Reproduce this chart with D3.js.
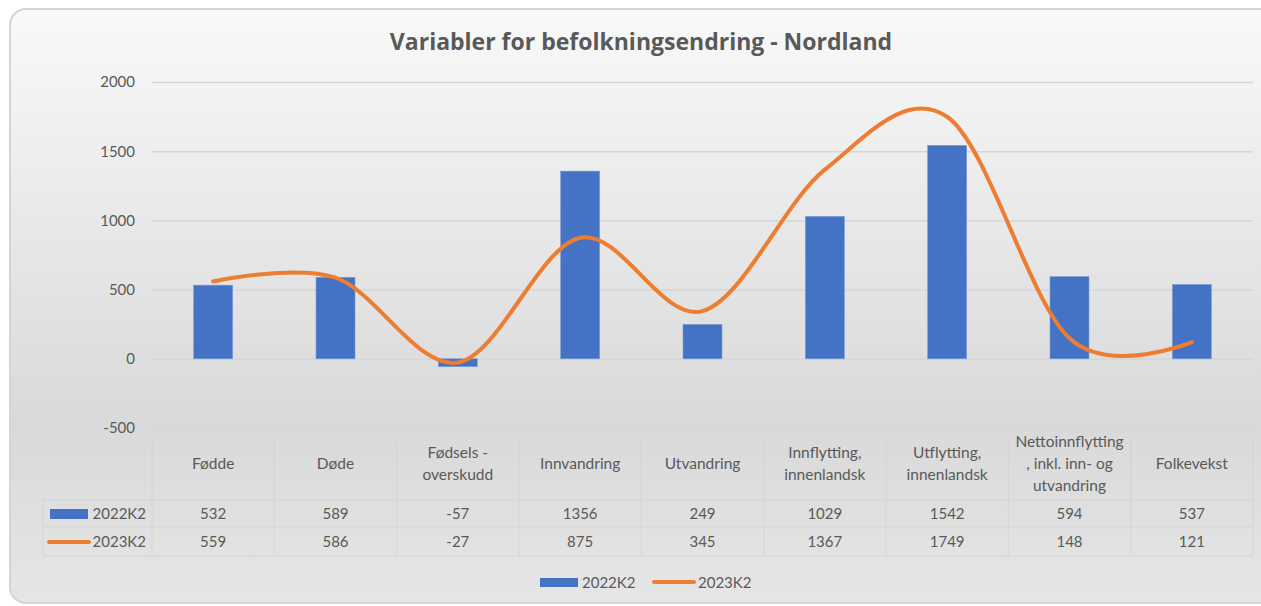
<!DOCTYPE html>
<html>
<head>
<meta charset="utf-8">
<script src="https://cdn.jsdelivr.net/npm/d3@7"></script>
<style>
  html, body { margin: 0; padding: 0; background: #fff; }
  svg { display: block; font-family: Lato, "Open Sans", sans-serif; }
</style>
</head>
<body>
<svg id="chart" width="1261" height="606"></svg>
<script>
// Chart data
var categories = ['Fødde', 'Døde', 'Fødsels -|overskudd', 'Innvandring', 'Utvandring',
  'Innflytting,|innenlandsk', 'Utflytting,|innenlandsk', 'Nettoinnflytting|, inkl. inn- og|utvandring', 'Folkevekst'];
var series2022 = [532, 589, -57, 1356, 249, 1029, 1542, 594, 537];
var series2023 = [559, 586, -27, 875, 345, 1367, 1749, 148, 121];
var seriesNames = ['2022K2', '2023K2'];
var yTicks = [-500, 0, 500, 1000, 1500, 2000];

var blue = '#4472C4', orange = '#ED7D31', textCol = '#595959';

var svg = d3.select('#chart');
var defs = svg.append('defs');
var grad = defs.append('linearGradient').attr('id', 'bg')
  .attr('x1', 0).attr('y1', 0).attr('x2', 0).attr('y2', 1);
grad.append('stop').attr('offset', '0%').attr('stop-color', '#f9f9f9');
grad.append('stop').attr('offset', '70%').attr('stop-color', '#d9d9d9');
grad.append('stop').attr('offset', '100%').attr('stop-color', '#e6e6e6');

// Chart frame
svg.append('rect')
  .attr('x', 10).attr('y', 9).attr('width', 1270).attr('height', 594)
  .attr('rx', 16).attr('ry', 16)
  .attr('fill', 'url(#bg)')
  .attr('stroke', '#d4d4d4').attr('stroke-width', 2);

// Title
svg.append('text')
  .attr('x', 641).attr('y', 50)
  .attr('text-anchor', 'middle')
  .style('font-family', '"Open Sans", sans-serif')
  .style('font-size', '23px').style('font-weight', 'bold')
  .attr('fill', textCol)
  .text('Variabler for befolkningsendring - Nordland');

var plotL = 152, plotR = 1253;
var x = d3.scaleBand().domain(d3.range(categories.length)).range([plotL, plotR]);
var y = d3.scaleLinear().domain([-500, 2000]).range([428, 82]);

// Gridlines + y axis labels
var yAxis = d3.axisLeft(y).tickValues(yTicks).tickSize(-(plotR - plotL)).tickPadding(17)
  .tickFormat(function(d) { return String(d); });
var gy = svg.append('g').attr('transform', 'translate(' + plotL + ',0)').call(yAxis);
gy.select('.domain').remove();
gy.selectAll('line').attr('stroke', '#d6d6d6').attr('stroke-width', 1.5);
gy.selectAll('text').attr('fill', textCol).style('font-size', '15px').style('font-family', 'Lato, sans-serif');

// Bars
var barW = 39;
svg.append('g').selectAll('rect')
  .data(series2022)
  .enter().append('rect')
  .attr('x', function(d, i) { return x(i) + x.bandwidth() / 2 - barW / 2; })
  .attr('y', function(d) { return y(Math.max(0, d)); })
  .attr('width', barW)
  .attr('height', function(d) { return Math.abs(y(d) - y(0)); })
  .attr('fill', blue)
  .attr('stroke', '#7d9bd4').attr('stroke-width', 0.6);

// Smoothed line
var line = d3.line()
  .x(function(d, i) { return x(i) + x.bandwidth() / 2; })
  .y(function(d) { return y(d); })
  .curve(d3.curveCardinal.tension(0));
svg.append('path')
  .datum(series2023)
  .attr('d', line)
  .attr('fill', 'none')
  .attr('stroke', orange)
  .attr('stroke-width', 4)
  .attr('stroke-linecap', 'round');

// Data table
var tbl = svg.append('g');
var gridCol = '#cfcfcf';
var tTop = 437, hBottom = 500, r1Bottom = 527, tBottom = 556, tLeft = 43;
d3.range(categories.length + 1).forEach(function(i) {
  var xx = i < categories.length ? x(i) : plotR;
  tbl.append('line').attr('x1', xx).attr('x2', xx).attr('y1', tTop).attr('y2', tBottom)
    .attr('stroke', gridCol).attr('stroke-opacity', 0.6);
});
tbl.append('line').attr('x1', tLeft).attr('x2', tLeft).attr('y1', hBottom).attr('y2', tBottom)
  .attr('stroke', gridCol).attr('stroke-opacity', 0.6);
[hBottom, r1Bottom, tBottom].forEach(function(yy) {
  tbl.append('line').attr('x1', tLeft).attr('x2', plotR).attr('y1', yy).attr('y2', yy)
    .attr('stroke', gridCol).attr('stroke-opacity', 0.6);
});

// Header labels
categories.forEach(function(c, i) {
  var lines = c.split('|');
  var cx = x(i) + x.bandwidth() / 2;
  var lh = 22, midY = 469;
  var t = tbl.append('text').attr('text-anchor', 'middle').attr('fill', textCol)
    .style('font-size', '15.5px');
  lines.forEach(function(l, k) {
    t.append('tspan').attr('x', cx)
      .attr('y', midY + (k - (lines.length - 1) / 2) * lh)
      .text(l);
  });
});

// Value rows
[series2022, series2023].forEach(function(s, r) {
  var ry = r === 0 ? 519 : 547;
  tbl.selectAll(null).data(s).enter().append('text')
    .attr('x', function(d, i) { return x(i) + x.bandwidth() / 2; })
    .attr('y', ry)
    .attr('text-anchor', 'middle').attr('fill', textCol)
    .style('font-size', '15px')
    .text(function(d) { return d; });
  tbl.append('text').attr('x', 146).attr('y', ry).attr('text-anchor', 'end')
    .attr('fill', textCol).style('font-size', '15px').text(seriesNames[r]);
});
// legend keys inside table
tbl.append('rect').attr('x', 50).attr('y', 509).attr('width', 38).attr('height', 10).attr('fill', blue);
tbl.append('line').attr('x1', 49).attr('x2', 89).attr('y1', 542).attr('y2', 542)
  .attr('stroke', orange).attr('stroke-width', 4).attr('stroke-linecap', 'round');

// Legend
var lg = svg.append('g');
lg.append('rect').attr('x', 540).attr('y', 578).attr('width', 38).attr('height', 9).attr('fill', blue);
lg.append('text').attr('x', 582).attr('y', 588).attr('fill', textCol).style('font-size', '15px').text(seriesNames[0]);
lg.append('line').attr('x1', 654).attr('x2', 694).attr('y1', 582).attr('y2', 582)
  .attr('stroke', orange).attr('stroke-width', 4).attr('stroke-linecap', 'round');
lg.append('text').attr('x', 698).attr('y', 588).attr('fill', textCol).style('font-size', '15px').text(seriesNames[1]);
</script>
</body>
</html>
